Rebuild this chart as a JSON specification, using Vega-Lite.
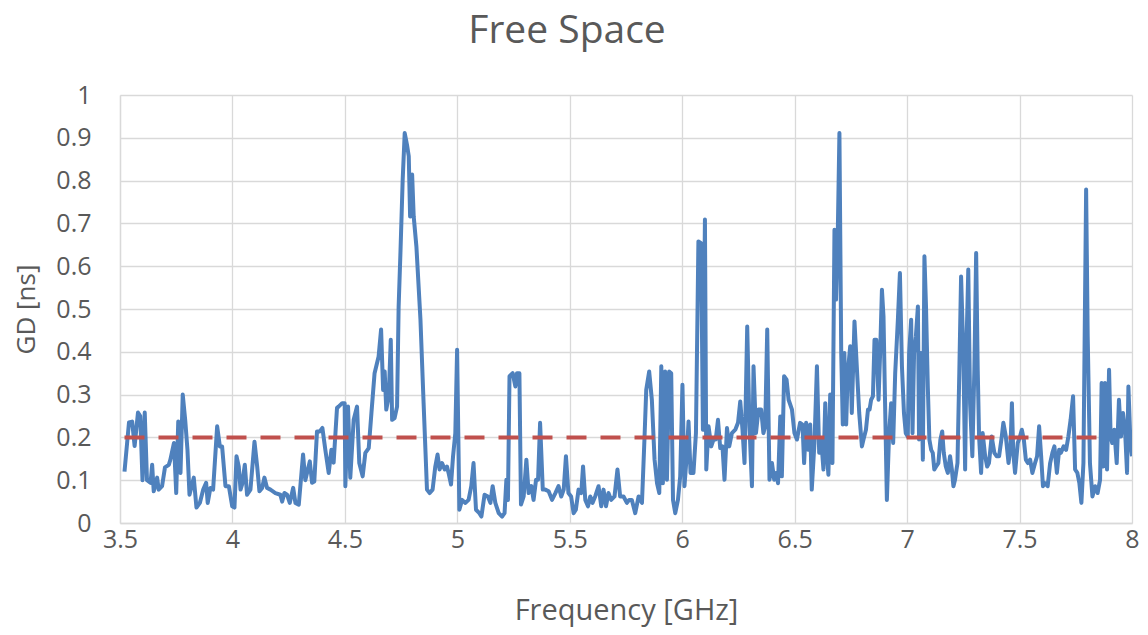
{
  "$schema": "https://vega.github.io/schema/vega-lite/v6.json",
  "width": 1012,
  "height": 428,
  "autosize": {"type": "none"},
  "padding": {"left": 120, "top": 95, "right": 16, "bottom": 112},
  "background": "white",
  "config": {
    "view": {"stroke": null},
    "font": "Open Sans"
  },
  "title": {
    "text": "Free Space",
    "fontSize": 39,
    "fontWeight": "normal",
    "color": "#595959",
    "font": "Open Sans",
    "anchor": "middle",
    "frame": "group",
    "dx": -59,
    "offset": 32
  },
  "datasets": {
    "gd": [
      {"f":3.52,"v":0.12},{"f":3.54,"v":0.235},{"f":3.554,"v":0.237},{"f":3.565,"v":0.18},{"f":3.58,"v":0.258},{"f":3.59,"v":0.25},{"f":3.6,"v":0.10},{"f":3.61,"v":0.258},{"f":3.62,"v":0.10},{"f":3.636,"v":0.094},{"f":3.643,"v":0.136},{"f":3.65,"v":0.074},{"f":3.665,"v":0.106},{"f":3.672,"v":0.078},{"f":3.687,"v":0.086},{"f":3.70,"v":0.13},{"f":3.717,"v":0.136},{"f":3.724,"v":0.148},{"f":3.74,"v":0.187},{"f":3.75,"v":0.07},{"f":3.759,"v":0.237},{"f":3.769,"v":0.117},{"f":3.779,"v":0.30},{"f":3.79,"v":0.24},{"f":3.80,"v":0.171},{"f":3.809,"v":0.066},{"f":3.828,"v":0.106},{"f":3.84,"v":0.036},{"f":3.855,"v":0.047},{"f":3.87,"v":0.078},{"f":3.883,"v":0.094},{"f":3.89,"v":0.047},{"f":3.902,"v":0.082},{"f":3.914,"v":0.078},{"f":3.932,"v":0.226},{"f":3.944,"v":0.179},{"f":3.954,"v":0.179},{"f":3.969,"v":0.086},{"f":3.984,"v":0.086},{"f":3.999,"v":0.039},{"f":4.009,"v":0.036},{"f":4.018,"v":0.156},{"f":4.028,"v":0.132},{"f":4.036,"v":0.078},{"f":4.043,"v":0.09},{"f":4.055,"v":0.136},{"f":4.065,"v":0.066},{"f":4.08,"v":0.078},{"f":4.098,"v":0.19},{"f":4.11,"v":0.132},{"f":4.12,"v":0.074},{"f":4.132,"v":0.082},{"f":4.142,"v":0.106},{"f":4.154,"v":0.082},{"f":4.169,"v":0.078},{"f":4.191,"v":0.07},{"f":4.213,"v":0.066},{"f":4.221,"v":0.05},{"f":4.231,"v":0.07},{"f":4.243,"v":0.066},{"f":4.255,"v":0.047},{"f":4.27,"v":0.082},{"f":4.28,"v":0.047},{"f":4.295,"v":0.043},{"f":4.314,"v":0.16},{"f":4.324,"v":0.10},{"f":4.344,"v":0.144},{"f":4.354,"v":0.094},{"f":4.364,"v":0.097},{"f":4.376,"v":0.214},{"f":4.388,"v":0.214},{"f":4.40,"v":0.222},{"f":4.413,"v":0.171},{"f":4.428,"v":0.117},{"f":4.44,"v":0.171},{"f":4.45,"v":0.141},{"f":4.458,"v":0.21},{"f":4.465,"v":0.269},{"f":4.472,"v":0.272},{"f":4.488,"v":0.28},{"f":4.499,"v":0.28},{"f":4.502,"v":0.086},{"f":4.514,"v":0.272},{"f":4.524,"v":0.106},{"f":4.539,"v":0.241},{"f":4.554,"v":0.272},{"f":4.564,"v":0.14},{"f":4.579,"v":0.109},{"f":4.591,"v":0.164},{"f":4.606,"v":0.175},{"f":4.618,"v":0.257},{"f":4.632,"v":0.35},{"f":4.65,"v":0.389},{"f":4.661,"v":0.452},{"f":4.67,"v":0.311},{"f":4.677,"v":0.354},{"f":4.684,"v":0.265},{"f":4.695,"v":0.296},{"f":4.704,"v":0.428},{"f":4.71,"v":0.241},{"f":4.721,"v":0.245},{"f":4.732,"v":0.272},{"f":4.739,"v":0.506},{"f":4.747,"v":0.631},{"f":4.757,"v":0.802},{"f":4.766,"v":0.911},{"f":4.776,"v":0.884},{"f":4.784,"v":0.857},{"f":4.79,"v":0.716},{"f":4.799,"v":0.814},{"f":4.806,"v":0.716},{"f":4.818,"v":0.646},{"f":4.836,"v":0.475},{"f":4.85,"v":0.28},{"f":4.865,"v":0.078},{"f":4.877,"v":0.07},{"f":4.89,"v":0.078},{"f":4.902,"v":0.132},{"f":4.912,"v":0.16},{"f":4.921,"v":0.125},{"f":4.932,"v":0.14},{"f":4.944,"v":0.125},{"f":4.954,"v":0.132},{"f":4.961,"v":0.117},{"f":4.972,"v":0.09},{"f":4.981,"v":0.156},{"f":4.991,"v":0.21},{"f":4.999,"v":0.405},{"f":5.009,"v":0.031},{"f":5.021,"v":0.054},{"f":5.036,"v":0.047},{"f":5.05,"v":0.054},{"f":5.062,"v":0.086},{"f":5.072,"v":0.14},{"f":5.083,"v":0.031},{"f":5.098,"v":0.023},{"f":5.107,"v":0.015},{"f":5.121,"v":0.066},{"f":5.136,"v":0.062},{"f":5.147,"v":0.047},{"f":5.157,"v":0.086},{"f":5.169,"v":0.047},{"f":5.184,"v":0.023},{"f":5.199,"v":0.015},{"f":5.21,"v":0.023},{"f":5.218,"v":0.101},{"f":5.225,"v":0.054},{"f":5.232,"v":0.343},{"f":5.246,"v":0.35},{"f":5.258,"v":0.319},{"f":5.265,"v":0.35},{"f":5.276,"v":0.35},{"f":5.283,"v":0.043},{"f":5.295,"v":0.062},{"f":5.307,"v":0.148},{"f":5.317,"v":0.07},{"f":5.329,"v":0.086},{"f":5.339,"v":0.054},{"f":5.35,"v":0.101},{"f":5.359,"v":0.101},{"f":5.368,"v":0.234},{"f":5.38,"v":0.078},{"f":5.391,"v":0.078},{"f":5.406,"v":0.074},{"f":5.421,"v":0.054},{"f":5.436,"v":0.07},{"f":5.45,"v":0.086},{"f":5.462,"v":0.062},{"f":5.473,"v":0.078},{"f":5.483,"v":0.156},{"f":5.494,"v":0.07},{"f":5.506,"v":0.062},{"f":5.517,"v":0.023},{"f":5.527,"v":0.031},{"f":5.539,"v":0.078},{"f":5.551,"v":0.07},{"f":5.559,"v":0.132},{"f":5.569,"v":0.054},{"f":5.581,"v":0.039},{"f":5.591,"v":0.062},{"f":5.601,"v":0.047},{"f":5.613,"v":0.062},{"f":5.628,"v":0.086},{"f":5.64,"v":0.039},{"f":5.65,"v":0.078},{"f":5.661,"v":0.039},{"f":5.672,"v":0.07},{"f":5.684,"v":0.054},{"f":5.699,"v":0.062},{"f":5.712,"v":0.125},{"f":5.724,"v":0.062},{"f":5.739,"v":0.062},{"f":5.754,"v":0.047},{"f":5.764,"v":0.054},{"f":5.776,"v":0.054},{"f":5.791,"v":0.023},{"f":5.806,"v":0.062},{"f":5.821,"v":0.047},{"f":5.832,"v":0.195},{"f":5.84,"v":0.311},{"f":5.853,"v":0.354},{"f":5.865,"v":0.288},{"f":5.877,"v":0.148},{"f":5.888,"v":0.093},{"f":5.898,"v":0.07},{"f":5.907,"v":0.366},{"f":5.914,"v":0.093},{"f":5.924,"v":0.354},{"f":5.932,"v":0.101},{"f":5.942,"v":0.354},{"f":5.951,"v":0.35},{"f":5.959,"v":0.054},{"f":5.969,"v":0.023},{"f":5.981,"v":0.054},{"f":5.991,"v":0.109},{"f":6.001,"v":0.323},{"f":6.01,"v":0.086},{"f":6.021,"v":0.164},{"f":6.028,"v":0.237},{"f":6.037,"v":0.117},{"f":6.05,"v":0.117},{"f":6.061,"v":0.21},{"f":6.072,"v":0.658},{"f":6.084,"v":0.654},{"f":6.092,"v":0.218},{"f":6.101,"v":0.709},{"f":6.107,"v":0.125},{"f":6.117,"v":0.226},{"f":6.129,"v":0.179},{"f":6.139,"v":0.195},{"f":6.149,"v":0.195},{"f":6.159,"v":0.241},{"f":6.169,"v":0.175},{"f":6.179,"v":0.179},{"f":6.188,"v":0.101},{"f":6.199,"v":0.222},{"f":6.209,"v":0.179},{"f":6.221,"v":0.21},{"f":6.236,"v":0.218},{"f":6.248,"v":0.234},{"f":6.258,"v":0.284},{"f":6.268,"v":0.218},{"f":6.277,"v":0.14},{"f":6.289,"v":0.459},{"f":6.299,"v":0.226},{"f":6.31,"v":0.086},{"f":6.317,"v":0.366},{"f":6.328,"v":0.21},{"f":6.339,"v":0.265},{"f":6.351,"v":0.265},{"f":6.361,"v":0.21},{"f":6.369,"v":0.226},{"f":6.378,"v":0.452},{"f":6.388,"v":0.101},{"f":6.399,"v":0.14},{"f":6.409,"v":0.101},{"f":6.418,"v":0.117},{"f":6.426,"v":0.093},{"f":6.436,"v":0.249},{"f":6.443,"v":0.109},{"f":6.453,"v":0.343},{"f":6.464,"v":0.335},{"f":6.473,"v":0.288},{"f":6.488,"v":0.265},{"f":6.499,"v":0.21},{"f":6.51,"v":0.195},{"f":6.524,"v":0.234},{"f":6.535,"v":0.23},{"f":6.542,"v":0.14},{"f":6.551,"v":0.234},{"f":6.561,"v":0.171},{"f":6.569,"v":0.23},{"f":6.576,"v":0.078},{"f":6.588,"v":0.187},{"f":6.599,"v":0.366},{"f":6.609,"v":0.164},{"f":6.618,"v":0.195},{"f":6.628,"v":0.125},{"f":6.636,"v":0.28},{"f":6.643,"v":0.164},{"f":6.65,"v":0.113},{"f":6.658,"v":0.30},{"f":6.668,"v":0.14},{"f":6.677,"v":0.685},{"f":6.684,"v":0.522},{"f":6.692,"v":0.685},{"f":6.699,"v":0.911},{"f":6.707,"v":0.397},{"f":6.714,"v":0.23},{"f":6.721,"v":0.397},{"f":6.729,"v":0.23},{"f":6.736,"v":0.35},{"f":6.747,"v":0.413},{"f":6.754,"v":0.257},{"f":6.766,"v":0.471},{"f":6.777,"v":0.358},{"f":6.787,"v":0.257},{"f":6.799,"v":0.179},{"f":6.806,"v":0.195},{"f":6.817,"v":0.218},{"f":6.826,"v":0.265},{"f":6.833,"v":0.265},{"f":6.84,"v":0.288},{"f":6.848,"v":0.296},{"f":6.855,"v":0.428},{"f":6.863,"v":0.428},{"f":6.873,"v":0.288},{"f":6.88,"v":0.397},{"f":6.888,"v":0.545},{"f":6.895,"v":0.483},{"f":6.902,"v":0.28},{"f":6.91,"v":0.054},{"f":6.92,"v":0.21},{"f":6.929,"v":0.28},{"f":6.938,"v":0.187},{"f":6.947,"v":0.35},{"f":6.959,"v":0.475},{"f":6.968,"v":0.584},{"f":6.977,"v":0.366},{"f":6.986,"v":0.257},{"f":6.994,"v":0.21},{"f":7.003,"v":0.202},{"f":7.009,"v":0.397},{"f":7.018,"v":0.475},{"f":7.024,"v":0.21},{"f":7.031,"v":0.397},{"f":7.039,"v":0.436},{"f":7.048,"v":0.506},{"f":7.053,"v":0.195},{"f":7.062,"v":0.397},{"f":7.07,"v":0.148},{"f":7.077,"v":0.623},{"f":7.084,"v":0.506},{"f":7.092,"v":0.319},{"f":7.099,"v":0.195},{"f":7.107,"v":0.171},{"f":7.114,"v":0.164},{"f":7.121,"v":0.125},{"f":7.129,"v":0.132},{"f":7.139,"v":0.14},{"f":7.148,"v":0.195},{"f":7.156,"v":0.214},{"f":7.163,"v":0.164},{"f":7.172,"v":0.132},{"f":7.181,"v":0.117},{"f":7.191,"v":0.156},{"f":7.199,"v":0.125},{"f":7.206,"v":0.086},{"f":7.213,"v":0.101},{"f":7.224,"v":0.14},{"f":7.232,"v":0.35},{"f":7.24,"v":0.576},{"f":7.25,"v":0.397},{"f":7.258,"v":0.125},{"f":7.265,"v":0.436},{"f":7.272,"v":0.592},{"f":7.28,"v":0.28},{"f":7.29,"v":0.156},{"f":7.299,"v":0.358},{"f":7.307,"v":0.631},{"f":7.314,"v":0.358},{"f":7.32,"v":0.202},{"f":7.329,"v":0.117},{"f":7.336,"v":0.21},{"f":7.347,"v":0.156},{"f":7.356,"v":0.132},{"f":7.364,"v":0.14},{"f":7.376,"v":0.202},{"f":7.388,"v":0.164},{"f":7.398,"v":0.156},{"f":7.409,"v":0.156},{"f":7.421,"v":0.202},{"f":7.428,"v":0.234},{"f":7.439,"v":0.202},{"f":7.451,"v":0.14},{"f":7.46,"v":0.179},{"f":7.466,"v":0.28},{"f":7.472,"v":0.164},{"f":7.48,"v":0.117},{"f":7.492,"v":0.187},{"f":7.502,"v":0.202},{"f":7.51,"v":0.218},{"f":7.519,"v":0.195},{"f":7.528,"v":0.148},{"f":7.537,"v":0.14},{"f":7.547,"v":0.148},{"f":7.557,"v":0.117},{"f":7.569,"v":0.14},{"f":7.578,"v":0.156},{"f":7.587,"v":0.226},{"f":7.596,"v":0.156},{"f":7.604,"v":0.086},{"f":7.613,"v":0.093},{"f":7.625,"v":0.086},{"f":7.636,"v":0.14},{"f":7.646,"v":0.164},{"f":7.655,"v":0.179},{"f":7.666,"v":0.117},{"f":7.676,"v":0.171},{"f":7.684,"v":0.164},{"f":7.696,"v":0.179},{"f":7.707,"v":0.171},{"f":7.717,"v":0.202},{"f":7.727,"v":0.241},{"f":7.738,"v":0.296},{"f":7.747,"v":0.125},{"f":7.757,"v":0.117},{"f":7.766,"v":0.093},{"f":7.775,"v":0.047},{"f":7.784,"v":0.14},{"f":7.796,"v":0.779},{"f":7.803,"v":0.436},{"f":7.813,"v":0.14},{"f":7.824,"v":0.062},{"f":7.836,"v":0.086},{"f":7.847,"v":0.07},{"f":7.858,"v":0.101},{"f":7.865,"v":0.327},{"f":7.872,"v":0.132},{"f":7.88,"v":0.327},{"f":7.889,"v":0.125},{"f":7.898,"v":0.358},{"f":7.905,"v":0.202},{"f":7.912,"v":0.187},{"f":7.921,"v":0.218},{"f":7.932,"v":0.14},{"f":7.942,"v":0.288},{"f":7.951,"v":0.202},{"f":7.96,"v":0.257},{"f":7.969,"v":0.218},{"f":7.978,"v":0.117},{"f":7.984,"v":0.319},{"f":7.993,"v":0.187},{"f":8.0,"v":0.156}
    ],
    "limit": [{"f": 3.52, "v": 0.2}, {"f": 7.85, "v": 0.2}]
  },
  "layer": [
    {
      "data": {"name": "gd"},
      "mark": {"type": "line", "color": "#4F81BD", "strokeWidth": 4, "strokeJoin": "round", "clip": true},
      "encoding": {
        "x": {
          "field": "f", "type": "quantitative",
          "scale": {"domain": [3.5, 8], "nice": false, "zero": false},
          "axis": {
            "values": [3.5, 4, 4.5, 5, 5.5, 6, 6.5, 7, 7.5, 8],
            "format": "~g",
            "title": "Frequency [GHz]",
            "grid": true, "gridColor": "#d9d9d9", "gridWidth": 1.3,
            "domainColor": "#d9d9d9", "domainWidth": 1.3,
            "ticks": false,
            "labelFont": "Open Sans", "labelFontSize": 25, "labelColor": "#595959", "labelPadding": 4,
            "labelFlush": false,
            "titleFont": "Open Sans", "titleFontSize": 29, "titleFontWeight": "normal", "titleColor": "#595959", "titlePadding": 44
          }
        },
        "y": {
          "field": "v", "type": "quantitative",
          "scale": {"domain": [0, 1], "nice": false},
          "axis": {
            "values": [0, 0.1, 0.2, 0.3, 0.4, 0.5, 0.6, 0.7, 0.8, 0.9, 1],
            "format": ".1~f",
            "title": "GD [ns]",
            "grid": true, "gridColor": "#d9d9d9", "gridWidth": 1.3,
            "domainColor": "#d9d9d9", "domainWidth": 1.3,
            "ticks": false,
            "labelFont": "Open Sans", "labelFontSize": 25, "labelColor": "#595959", "labelPadding": 29,
            "labelFlush": false,
            "titleFont": "Open Sans", "titleFontSize": 26, "titleFontWeight": "normal", "titleColor": "#595959", "titlePadding": 16
          }
        }
      }
    },
    {
      "data": {"name": "limit"},
      "mark": {"type": "line", "color": "#C0504D", "strokeWidth": 4, "strokeDash": [20, 14]},
      "encoding": {
        "x": {"field": "f", "type": "quantitative"},
        "y": {"field": "v", "type": "quantitative"}
      }
    }
  ]
}
